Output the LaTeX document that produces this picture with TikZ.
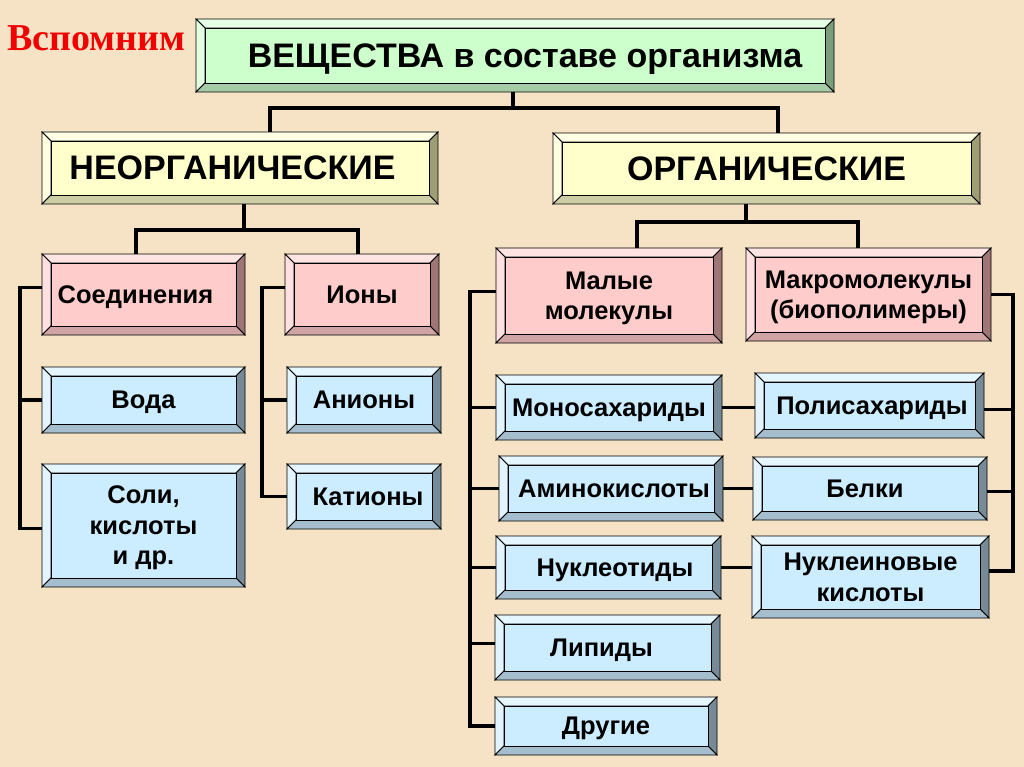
\documentclass[tikz,border=0pt]{standalone}
\usepackage{fontspec}
\setmainfont{Liberation Sans}
\newfontfamily\serifru{Liberation Serif}
\definecolor{bg}{RGB}{246,226,196}
\definecolor{redtitle}{RGB}{240,0,0}
% green
\definecolor{greenM}{RGB}{204,255,204}
\definecolor{greenT}{RGB}{230,255,230}
\definecolor{greenL}{RGB}{226,255,226}
\definecolor{greenR}{RGB}{122,158,122}
\definecolor{greenB}{RGB}{166,204,166}
% yellow
\definecolor{yelM}{RGB}{255,255,204}
\definecolor{yelT}{RGB}{255,255,230}
\definecolor{yelL}{RGB}{255,255,226}
\definecolor{yelR}{RGB}{158,158,118}
\definecolor{yelB}{RGB}{206,206,166}
% pink
\definecolor{pinkM}{RGB}{255,204,204}
\definecolor{pinkT}{RGB}{255,228,228}
\definecolor{pinkL}{RGB}{255,224,224}
\definecolor{pinkR}{RGB}{158,118,118}
\definecolor{pinkB}{RGB}{208,164,164}
% blue
\definecolor{bluM}{RGB}{204,236,255}
\definecolor{bluT}{RGB}{230,246,255}
\definecolor{bluL}{RGB}{226,244,255}
\definecolor{bluR}{RGB}{118,138,152}
\definecolor{bluB}{RGB}{164,190,206}
\def\bw{9}
\tikzset{
  conn/.style={line width=3.3pt, draw=black},
  bevline/.style={draw=black, line width=0.8pt},
  boxtext/.style={font=\bfseries\fontsize{25.5}{30.5}\selectfont, align=center,
    inner sep=0pt, outer sep=0pt, text depth=0pt},
  bigtext/.style={font=\bfseries\fontsize{34}{38}\selectfont},
  toptext/.style={font=\bfseries\fontsize{34}{38}\selectfont},
}
% [#1 options] #2 name, #3 x1, #4 y1, #5 x2, #6 y2, #7 colour, #8 text
\newcommand\bvbox[8][]{%
  \filldraw[bevline, fill=#7T] (#3,#4) -- (#5,#4) -- (#5-\bw,#4+\bw) -- (#3+\bw,#4+\bw) -- cycle;
  \filldraw[bevline, fill=#7L] (#3,#4) -- (#3+\bw,#4+\bw) -- (#3+\bw,#6-\bw) -- (#3,#6) -- cycle;
  \filldraw[bevline, fill=#7R] (#5,#4) -- (#5,#6) -- (#5-\bw,#6-\bw) -- (#5-\bw,#4+\bw) -- cycle;
  \filldraw[bevline, fill=#7B] (#3,#6) -- (#5,#6) -- (#5-\bw,#6-\bw) -- (#3+\bw,#6-\bw) -- cycle;
  \filldraw[bevline, fill=#7M] (#3+\bw,#4+\bw) rectangle (#5-\bw,#6-\bw);
  \node[boxtext, minimum width={(#5-#3)*1pt}, minimum height={(#6-#4)*1pt}, #1]
    (#2) at ({(#3+#5)/2},{(#4+#6)/2}) {#8};
}
\begin{document}
\begin{tikzpicture}[x=1pt,y=-1pt]
\useasboundingbox (0,0) rectangle (1024,767);
\fill[bg] (0,0) rectangle (1024,767);

\node[anchor=base west, inner sep=0pt, text=redtitle,
  font=\serifru\bfseries\fontsize{38}{42}\selectfont] (title) at (7,51) {Вспомним};

% boxes
\bvbox[toptext]{top}{196}{19}{834}{92}{green}{\hspace*{20pt}ВЕЩЕСТВА в составе организма}
\bvbox[bigtext]{neorg}{42}{132}{438}{204}{yel}{\hspace*{-15pt}НЕОРГАНИЧЕСКИЕ}
\bvbox[bigtext]{org}{553}{133}{980}{204}{yel}{ОРГАНИЧЕСКИЕ}

\bvbox{soed}{42}{254}{245}{335}{pink}{\hspace*{-16pt}Соединения}
\bvbox{ion}{285}{254}{439}{335}{pink}{Ионы}
\bvbox{voda}{42}{367}{245}{433}{blu}{Вода}
\bvbox{soli}{42}{464}{245}{587}{blu}{Соли,\\кислоты\\и др.}
\bvbox{anion}{287}{367}{441}{433}{blu}{Анионы}
\bvbox{kation}{287}{464}{441}{529}{blu}{\hspace*{8pt}Катионы}

\bvbox{mal}{496}{248}{722}{343}{pink}{Малые\\молекулы}
\bvbox{makro}{746}{248}{991}{341}{pink}{Макромолекулы\\(биополимеры)}
\bvbox{mono}{496}{375}{722}{440}{blu}{Моносахариды}
\bvbox{poli}{755}{373}{984}{438}{blu}{\hspace*{5pt}Полисахариды}
\bvbox{amino}{499}{456}{723}{521}{blu}{\hspace*{6pt}Аминокислоты}
\bvbox{belki}{753}{457}{987}{520}{blu}{\hspace*{-10pt}Белки}
\bvbox{nukl}{496}{536}{721}{599}{blu}{\hspace*{13pt}Нуклеотиды}
\bvbox{nuklk}{752}{536}{989}{618}{blu}{Нуклеиновые\\кислоты}
\bvbox{lipid}{495}{615}{720}{680}{blu}{\hspace*{-12pt}Липиды}
\bvbox{drug}{495}{697}{717}{755}{blu}{Другие}

% junction coordinates
\coordinate (tj) at (513,108);
\coordinate (tjL) at (270,108);
\coordinate (tjR) at (778,108);
\coordinate (nj) at (244,230);
\coordinate (njL) at (136,230);
\coordinate (njR) at (358,230);
\coordinate (oj) at (746,222);
\coordinate (ojL) at (637,222);
\coordinate (ojR) at (858,222);
\coordinate (LA) at (20,0);
\coordinate (LB) at (262,0);
\coordinate (LC) at (470,0);
\coordinate (RC) at (1013,0);

% connectors
\draw[conn] (tj |- top.south) -- (tj);
\draw[conn] (tjL |- neorg.north) -- (tjL) -- (tjR) -- (tjR |- org.north);
\draw[conn] (nj |- neorg.south) -- (nj);
\draw[conn] (njL |- soed.north) -- (njL) -- (njR) -- (njR |- ion.north);
\draw[conn] (oj |- org.south) -- (oj);
\draw[conn] (ojL |- mal.north) -- (ojL) -- (ojR) -- (ojR |- makro.north);

\draw[conn] ([yshift=7pt]soed.west) -- ([yshift=7pt]soed.west -| LA) |- ([yshift=-3pt]soli.west);
\draw[conn] (voda.west) -- (voda.west -| LA);
\draw[conn] ([yshift=7pt]ion.west) -- ([yshift=7pt]ion.west -| LB) |- (kation.west);
\draw[conn] (anion.west) -- (anion.west -| LB);

\draw[conn] ([yshift=4pt]mal.west) -- ([yshift=4pt]mal.west -| LC) |- (drug.west);
\draw[conn] (mono.west) -- (mono.west -| LC);
\draw[conn] (amino.west) -- (amino.west -| LC);
\draw[conn] (nukl.west) -- (nukl.west -| LC);
\draw[conn] ([yshift=4pt]lipid.west) -- ([yshift=4pt]lipid.west -| LC);

\draw[conn] (makro.east) -- (makro.east -| RC) |- ([yshift=6pt]nuklk.east);
\draw[conn] ([yshift=-4pt]poli.east) -- ([yshift=-4pt]poli.east -| RC);
\draw[conn] ([yshift=-3pt]belki.east) -- ([yshift=-3pt]belki.east -| RC);

\draw[conn] (mono.east) -- (mono.east -| poli.west);
\draw[conn] (amino.east) -- (amino.east -| belki.west);
\draw[conn] (nukl.east) -- (nukl.east -| nuklk.west);
\end{tikzpicture}
\end{document}
